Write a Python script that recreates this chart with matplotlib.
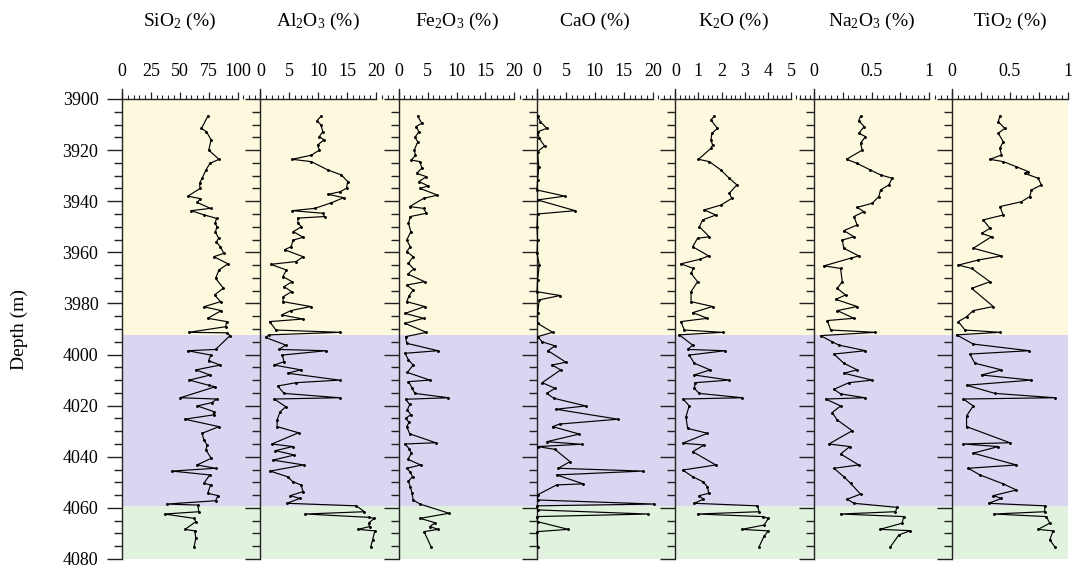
import matplotlib.pyplot as plt
from matplotlib.ticker import FixedLocator, MultipleLocator

plt.rcParams["font.family"] = "Liberation Serif"
plt.rcParams["mathtext.fontset"] = "custom"
plt.rcParams["mathtext.rm"] = "Liberation Serif"
plt.rcParams["mathtext.default"] = "regular"

# ---- data (depth in m, oxide content in %) ----
sio2_depth = [3906.7, 3911.5, 3912.8, 3916.0, 3920.0, 3923.6, 3925.2, 3927.8, 3931.0, 3933.0,
              3935.0, 3938.0, 3939.0, 3940.5, 3942.8, 3943.7, 3945.4, 3946.7, 3948.5, 3950.0,
              3952.0, 3954.5, 3956.0, 3957.8, 3960.4, 3961.7, 3964.5, 3966.9, 3970.2, 3974.0,
              3976.7, 3979.3, 3981.3, 3982.8, 3985.8, 3987.1, 3989.1, 3991.3, 3991.5, 3992.6,
              3998.0, 3998.5, 4000.2, 4002.4, 4004.1, 4006.0, 4008.0, 4010.0, 4012.0, 4012.6,
              4016.9, 4017.4, 4018.8, 4020.1, 4022.3, 4023.6, 4025.3, 4028.2, 4030.8, 4033.4,
              4035.4, 4037.3, 4040.6, 4043.2, 4044.5, 4045.6, 4047.1, 4050.4, 4051.0, 4054.3,
              4055.2, 4057.2, 4058.5, 4058.9, 4061.5, 4062.4, 4064.1, 4065.4, 4068.4, 4069.0,
              4071.9, 4075.2]
sio2 = [74.2, 68.7, 73.0, 77.0, 75.0, 83.8, 76.0, 72.5, 69.3, 67.0,
        67.5, 57.0, 67.8, 65.0, 76.5, 59.7, 71.3, 81.7, 80.5, 82.0,
        80.8, 83.5, 81.5, 85.0, 88.0, 79.4, 91.6, 83.8, 80.9, 87.6,
        80.0, 85.2, 70.7, 85.8, 74.2, 90.4, 89.6, 57.7, 91.0, 93.3,
        80.9, 56.8, 76.8, 74.8, 84.9, 63.8, 76.2, 58.3, 74.8, 80.6,
        50.4, 82.0, 77.7, 65.2, 79.1, 79.1, 54.2, 83.8, 69.3, 70.7,
        73.6, 72.5, 77.1, 64.9, 80.9, 43.2, 75.9, 70.7, 76.5, 74.2,
        82.9, 80.9, 38.8, 65.5, 66.4, 36.8, 62.3, 63.8, 54.5, 62.9,
        63.8, 62.3]

al2o3_depth = [3906.7, 3908.5, 3910.2, 3912.8, 3914.7, 3916.0, 3918.0, 3920.0, 3922.0, 3923.6,
               3924.5, 3927.8, 3929.7, 3932.3, 3934.9, 3936.3, 3937.3, 3938.6, 3940.6, 3942.8,
               3943.7, 3944.7, 3946.0, 3946.6, 3948.6, 3950.0, 3951.9, 3954.1, 3955.2, 3957.8,
               3959.0, 3961.7, 3963.6, 3964.7, 3966.9, 3969.5, 3971.5, 3973.4, 3975.4, 3977.3,
               3979.3, 3981.2, 3982.8, 3984.5, 3986.1, 3987.1, 3990.4, 3991.3, 3992.3, 3993.3,
               3996.3, 3998.0, 3998.5, 4000.2, 4002.8, 4004.1, 4006.0, 4007.3, 4010.0, 4011.0,
               4012.3, 4015.2, 4016.9, 4017.4, 4020.4, 4022.5, 4025.6, 4028.2, 4030.6, 4035.0,
               4036.0, 4037.6, 4039.3, 4041.3, 4043.2, 4045.6, 4047.8, 4049.7, 4051.0, 4053.6,
               4055.2, 4056.3, 4058.2, 4059.2, 4061.5, 4062.4, 4063.7, 4064.1, 4066.0, 4067.3,
               4068.4, 4069.0, 4072.5, 4075.2]
al2o3 = [10.5, 9.8, 10.5, 10.8, 10.2, 11.0, 9.9, 10.2, 8.8, 5.5,
         8.8, 11.7, 14.0, 15.1, 14.9, 13.8, 11.7, 14.4, 12.3, 9.4,
         5.5, 10.8, 11.1, 6.5, 6.5, 7.1, 5.7, 7.4, 5.7, 5.3,
         4.2, 7.4, 6.2, 1.8, 4.5, 3.9, 5.5, 4.1, 5.4, 4.0,
         3.9, 8.7, 5.3, 3.7, 7.4, 1.6, 2.7, 13.8, 1.5, 0.9,
         4.4, 3.2, 11.4, 3.8, 4.1, 2.4, 7.0, 4.7, 13.7, 6.2,
         3.0, 4.1, 13.7, 2.4, 4.4, 3.4, 2.9, 2.9, 6.6, 2.0,
         5.6, 2.6, 5.9, 2.2, 7.5, 1.7, 4.7, 5.6, 7.0, 7.4,
         5.2, 6.8, 4.6, 16.6, 18.0, 7.8, 18.8, 19.7, 18.7, 18.9,
         16.9, 19.8, 19.4, 19.1]

fe2o3_depth = [3906.7, 3909.5, 3910.8, 3912.8, 3915.0, 3916.7, 3920.0, 3922.0, 3923.9, 3924.5,
               3927.1, 3929.1, 3930.4, 3932.3, 3934.0, 3935.0, 3937.6, 3938.9, 3942.1, 3942.8,
               3944.7, 3946.0, 3948.6, 3951.9, 3955.2, 3957.8, 3959.7, 3961.7, 3964.3, 3966.5,
               3968.5, 3971.5, 3972.8, 3974.7, 3977.0, 3979.3, 3981.2, 3983.9, 3985.8, 3987.8,
               3991.3, 3993.0, 3995.6, 3998.5, 3999.5, 4002.1, 4004.1, 4007.0, 4010.0, 4010.6,
               4013.0, 4015.2, 4016.9, 4017.5, 4019.5, 4021.7, 4023.5, 4025.0, 4026.5, 4028.2,
               4031.0, 4034.5, 4035.0, 4036.8, 4038.6, 4041.0, 4043.2, 4044.5, 4046.0, 4047.8,
               4049.5, 4051.7, 4054.0, 4056.9, 4058.5, 4062.1, 4064.1, 4065.8, 4067.3, 4068.4,
               4069.3, 4075.2]
fe2o3 = [3.3, 4.0, 3.0, 3.5, 2.8, 3.3, 2.7, 2.9, 2.2, 3.7,
         4.0, 3.1, 4.8, 3.5, 5.1, 3.7, 6.7, 4.3, 1.9, 4.3,
         4.8, 2.0, 1.7, 2.1, 1.4, 2.0, 1.4, 2.5, 1.7, 2.6,
         1.6, 4.5, 1.4, 2.5, 1.8, 1.4, 4.5, 1.1, 4.3, 1.1,
         4.8, 1.2, 1.4, 6.8, 1.1, 1.7, 2.5, 1.5, 5.4, 1.7,
         2.3, 2.8, 8.6, 1.2, 1.9, 1.5, 2.1, 1.2, 1.8, 1.4,
         1.9, 6.4, 1.1, 1.8, 2.2, 1.6, 3.8, 1.4, 2.0, 2.4,
         1.7, 2.0, 2.3, 2.5, 3.7, 8.7, 3.7, 6.3, 5.4, 6.8,
         4.4, 5.6]

cao_depth = [3906.7, 3908.9, 3911.5, 3912.8, 3915.4, 3918.4, 3920.6, 3926.5, 3931.7, 3935.6,
             3938.0, 3939.5, 3943.7, 3945.0, 3950.0, 3955.2, 3960.4, 3964.9, 3970.8, 3975.4,
             3976.9, 3978.6, 3983.8, 3987.8, 3991.3, 3993.0, 3995.0, 3996.6, 3998.5, 4003.0,
             4004.1, 4006.0, 4011.0, 4013.2, 4015.2, 4017.1, 4020.1, 4021.4, 4025.3, 4027.2,
             4028.2, 4031.1, 4034.1, 4035.1, 4036.0, 4037.1, 4041.9, 4044.5, 4045.6, 4047.1,
             4050.6, 4051.0, 4054.9, 4056.9, 4058.5, 4059.2, 4060.8, 4062.4, 4063.4, 4065.4,
             4068.4, 4069.3, 4075.2]
cao = [0.1, 0.6, 1.7, 0.1, 0.4, 1.3, 0.1, 0.3, 0.1, 0.0,
       4.8, 0.1, 6.6, 0.1, 0.0, 0.1, 0.0, 0.4, 0.1, 0.0,
       4.0, 0.4, 0.1, 0.1, 2.7, 0.1, 0.9, 3.1, 1.9, 5.0,
       2.6, 4.1, 0.9, 3.1, 1.7, 2.9, 8.4, 3.3, 14.0, 3.9,
       2.7, 7.3, 1.7, 7.7, 0.1, 3.1, 5.7, 3.7, 18.3, 3.4,
       8.0, 3.4, 0.1, 0.1, 20.3, 0.0, 0.1, 19.2, 0.0, 0.1,
       5.4, 0.0, 0.1]

k2o_depth = [3906.7, 3908.2, 3911.5, 3913.4, 3916.0, 3918.0, 3919.3, 3923.6, 3924.5, 3927.8,
             3931.0, 3933.6, 3936.9, 3938.9, 3941.5, 3943.4, 3945.4, 3947.3, 3950.0, 3953.9,
             3954.5, 3957.8, 3961.4, 3962.7, 3964.5, 3966.3, 3968.2, 3971.5, 3975.4, 3979.3,
             3981.2, 3983.6, 3985.8, 3987.1, 3990.4, 3991.3, 3992.3, 3996.3, 3998.0, 3998.5,
             4000.2, 4003.4, 4006.0, 4008.0, 4010.0, 4011.0, 4013.2, 4015.2, 4016.9, 4017.4,
             4020.1, 4024.3, 4028.9, 4030.8, 4034.7, 4035.4, 4038.0, 4043.2, 4045.2, 4047.8,
             4049.7, 4051.7, 4054.3, 4055.2, 4056.6, 4058.2, 4059.2, 4061.5, 4062.4, 4063.4,
             4064.1, 4066.7, 4068.4, 4069.0, 4071.0, 4075.2]
k2o = [1.68, 1.54, 1.82, 1.58, 1.54, 1.61, 1.54, 1.00, 1.47, 1.97,
       2.33, 2.66, 2.33, 2.44, 1.97, 1.25, 1.75, 1.18, 1.04, 1.47,
       0.96, 0.75, 1.44, 1.07, 0.24, 0.78, 0.68, 0.96, 0.68, 0.68,
       1.61, 0.75, 1.39, 0.24, 0.39, 2.04, 0.17, 0.75, 0.53, 2.16,
       0.60, 0.82, 1.50, 0.82, 2.33, 0.86, 0.82, 1.03, 2.90, 0.34,
       0.60, 0.46, 0.53, 1.39, 0.32, 1.25, 0.75, 1.75, 0.32, 0.75,
       1.18, 1.39, 1.44, 1.03, 1.21, 0.82, 3.55, 3.62, 0.96, 3.77,
       4.02, 3.84, 2.87, 4.02, 3.84, 3.62]

na2o3_depth = [3906.7, 3908.5, 3910.8, 3913.4, 3914.7, 3917.3, 3920.0, 3923.6, 3925.2, 3927.8,
               3929.7, 3931.0, 3933.6, 3935.6, 3938.2, 3940.8, 3942.4, 3944.1, 3946.0, 3949.3,
               3951.5, 3953.9, 3955.2, 3958.4, 3961.4, 3962.3, 3965.3, 3966.3, 3971.5, 3974.1,
               3976.7, 3978.4, 3981.2, 3982.8, 3985.8, 3986.7, 3990.4, 3991.3, 3992.6, 3995.0,
               3996.3, 3998.5, 3999.8, 4003.4, 4006.0, 4007.3, 4010.0, 4011.0, 4013.6, 4015.4,
               4016.9, 4017.4, 4020.1, 4022.7, 4025.6, 4029.8, 4035.0, 4036.0, 4038.9, 4043.2,
               4044.5, 4047.8, 4050.4, 4054.6, 4056.6, 4058.2, 4059.8, 4061.5, 4062.4, 4063.4,
               4066.0, 4068.4, 4068.9, 4070.6, 4075.2]
na2o3 = [0.405, 0.390, 0.437, 0.390, 0.448, 0.405, 0.420, 0.284, 0.376, 0.491,
         0.578, 0.678, 0.650, 0.578, 0.563, 0.506, 0.376, 0.434, 0.348, 0.376,
         0.261, 0.348, 0.247, 0.261, 0.390, 0.319, 0.089, 0.233, 0.247, 0.204,
         0.276, 0.190, 0.376, 0.204, 0.348, 0.118, 0.147, 0.534, 0.060, 0.160,
         0.218, 0.448, 0.175, 0.261, 0.376, 0.261, 0.506, 0.305, 0.175, 0.233,
         0.442, 0.103, 0.233, 0.160, 0.204, 0.333, 0.132, 0.313, 0.233, 0.390,
         0.175, 0.261, 0.319, 0.405, 0.290, 0.348, 0.721, 0.707, 0.233, 0.779,
         0.764, 0.572, 0.836, 0.736, 0.664]

tio2_depth = [3906.7, 3908.9, 3911.5, 3913.4, 3916.7, 3919.3, 3921.9, 3923.6, 3924.5, 3926.5,
              3928.4, 3929.1, 3931.0, 3933.6, 3935.6, 3938.2, 3940.2, 3942.1, 3945.4, 3947.3,
              3950.6, 3952.6, 3953.9, 3958.4, 3961.4, 3963.0, 3965.0, 3966.3, 3971.5, 3974.1,
              3981.2, 3982.8, 3985.2, 3987.1, 3990.4, 3991.3, 3992.3, 3995.9, 3998.5, 3999.8,
              4003.4, 4006.0, 4008.0, 4010.0, 4012.0, 4015.2, 4016.9, 4017.4, 4020.1, 4024.0,
              4028.2, 4034.5, 4035.0, 4036.0, 4038.6, 4043.2, 4044.5, 4047.1, 4050.6, 4053.0,
              4055.2, 4056.3, 4058.2, 4059.2, 4061.5, 4062.4, 4063.4, 4066.0, 4068.4, 4069.0,
              4072.5, 4075.2]
tio2 = [0.414, 0.400, 0.457, 0.400, 0.443, 0.414, 0.428, 0.328, 0.443, 0.557,
        0.658, 0.629, 0.744, 0.773, 0.687, 0.672, 0.600, 0.414, 0.443, 0.270,
        0.328, 0.256, 0.342, 0.184, 0.428, 0.227, 0.055, 0.170, 0.328, 0.170,
        0.357, 0.184, 0.126, 0.055, 0.112, 0.414, 0.040, 0.184, 0.667, 0.155,
        0.198, 0.428, 0.256, 0.687, 0.126, 0.371, 0.888, 0.098, 0.184, 0.126,
        0.126, 0.500, 0.098, 0.400, 0.184, 0.557, 0.141, 0.241, 0.443, 0.557,
        0.357, 0.428, 0.316, 0.802, 0.802, 0.362, 0.816, 0.845, 0.744, 0.874,
        0.845, 0.888]

titles = ["SiO$_2$ (%)", "Al$_2$O$_3$ (%)", "Fe$_2$O$_3$ (%)", "CaO (%)",
          "K$_2$O (%)", "Na$_2$O$_3$ (%)", "TiO$_2$ (%)"]
x_max = [100, 20, 20, 20, 5, 1, 1]
major_ticks = [[0, 25, 50, 75, 100], [0, 5, 10, 15, 20], [0, 5, 10, 15, 20], [0, 5, 10, 15, 20],
               [0, 1, 2, 3, 4, 5], [0, 0.25, 0.5, 0.75, 1], [0, 0.25, 0.5, 0.75, 1]]
major_labels = [["0", "25", "50", "75", "100"], ["0", "5", "10", "15", "20"],
                ["0", "5", "10", "15", "20"], ["0", "5", "10", "15", "20"],
                ["0", "1", "2", "3", "4", "5"], ["0", "", "0.5", "", "1"], ["0", "", "0.5", "", "1"]]
minor_step = [5, 1, 1, 1, 0.2, 0.05, 0.05]

zone_tops = [3900, 3992.3, 4059.3]
zone_bottoms = [3992.3, 4059.3, 4080]
zone_colors = ["#fdf9df", "#d9d6f1", "#e1f3de"]

series = [(sio2_depth, sio2), (al2o3_depth, al2o3), (fe2o3_depth, fe2o3), (cao_depth, cao),
          (k2o_depth, k2o), (na2o3_depth, na2o3), (tio2_depth, tio2)]

W, H = 1076, 571
fig = plt.figure(figsize=(W / 100, H / 100), dpi=100)

left0 = 122
step = 138.33
data_w = 115.7
y_top, y_bot = 3896, 4080
px_top = 99 - 4 * (460 / 180)  # axes top sits a little above the 3900 line
ax_bottom = 1 - 559 / H
ax_height = (559 - px_top) / H
axes_col = "#222222"

for i, (title, (dep, val)) in enumerate(zip(titles, series)):
    last = i == len(titles) - 1
    width_px = data_w if last else step
    ax = fig.add_axes([(left0 + i * step) / W, ax_bottom, width_px / W, ax_height])
    ax.set_xlim(0, x_max[i] * width_px / data_w)
    ax.set_ylim(y_bot, y_top)

    for top, bot, col in zip(zone_tops, zone_bottoms, zone_colors):
        ax.axhspan(top, bot, color=col, lw=0, zorder=0)

    ax.plot(val, dep, color="black", lw=0.85, marker="o", ms=1.1, zorder=3, clip_on=False)

    for s in ["right", "bottom"]:
        ax.spines[s].set_visible(False)
    ax.spines["top"].set_position(("data", 3900))
    ax.spines["top"].set_bounds(0, x_max[i])
    ax.spines["left"].set_bounds(4080, y_top)
    for s in ["top", "left"]:
        ax.spines[s].set_color(axes_col)
        ax.spines[s].set_linewidth(1.0)

    ax.xaxis.tick_top()
    ax.xaxis.set_major_locator(FixedLocator(major_ticks[i]))
    ax.set_xticklabels(major_labels[i])
    ax.xaxis.set_minor_locator(MultipleLocator(minor_step[i]))
    ax.tick_params(axis="x", which="major", direction="out", length=5, width=0.9,
                   color=axes_col, labelsize=13, pad=9)
    ax.tick_params(axis="x", which="minor", direction="out", length=3, width=0.8,
                   color=axes_col)

    ax.yaxis.set_major_locator(FixedLocator(list(range(3900, 4081, 20))))
    ax.yaxis.set_minor_locator(FixedLocator(list(range(3900, 4081, 5))))
    ax.tick_params(axis="y", which="major", direction="out", length=11, width=1.0,
                   color=axes_col, labelsize=13, pad=6, labelleft=(i == 0))
    ax.tick_params(axis="y", which="minor", direction="out", length=6, width=1.0,
                   color=axes_col)

    cx = (left0 + i * step + data_w / 2) / W
    fig.text(cx, 1 - 26 / H, title, ha="center", va="baseline", fontsize=14)

fig.text(19 / W, 1 - 329 / H, "Depth (m)", rotation=90, ha="center", va="center", fontsize=14)

fig.savefig("out.png", dpi=100)
